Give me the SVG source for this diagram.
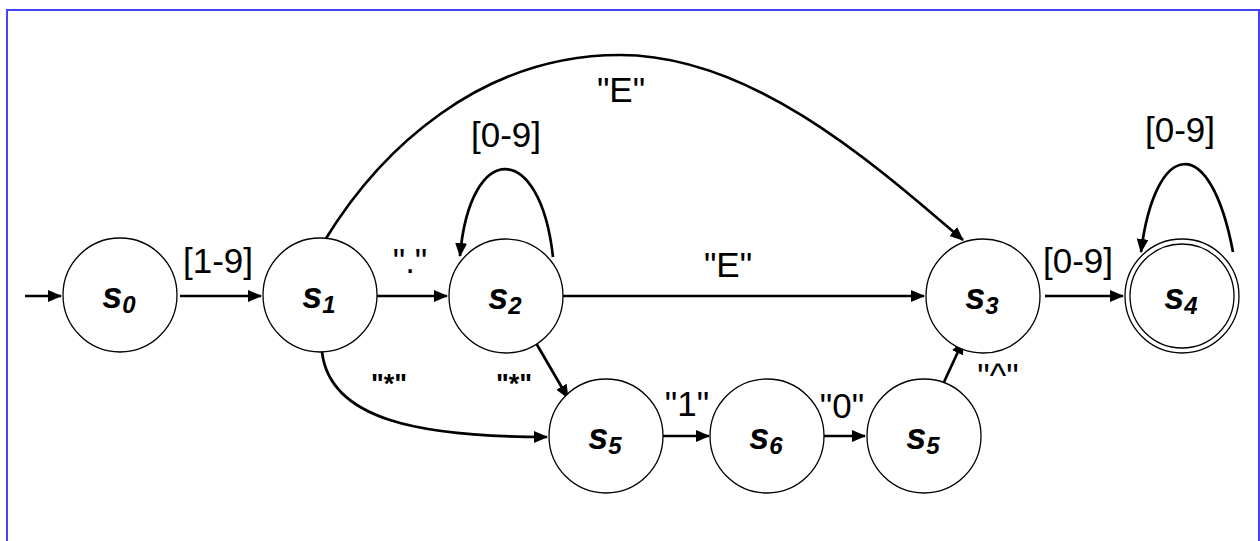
<svg xmlns="http://www.w3.org/2000/svg" width="1260" height="541" viewBox="0 0 1260 541">
<style>
.node{fill:#fff;stroke:#000;stroke-width:1.3}
.lab{font-family:"Liberation Sans",Arial,sans-serif;font-style:italic;font-weight:bold;font-size:36px;text-anchor:middle}
.sub{font-size:24px}
.el{font-family:"Liberation Sans",Arial,sans-serif;font-size:35px;text-anchor:middle;fill:#000}
.elb{font-family:"Liberation Sans",Arial,sans-serif;font-size:27px;font-weight:bold;text-anchor:middle;fill:#000}
.edge{fill:none;stroke:#000;stroke-width:2.7}
</style>
<defs>
<marker id="ah" viewBox="0 0 14 12" refX="13" refY="6" markerWidth="14" markerHeight="12" markerUnits="userSpaceOnUse" orient="auto">
<path d="M0,0 L14,6 L0,12 Z" fill="#000"/>
</marker>
</defs>
<rect x="7" y="10" width="1252" height="560" fill="#fff" stroke="#4444ff" stroke-width="2"/>
<g id="connectors">
<line class="edge" x1="25" y1="296" x2="61" y2="296" marker-end="url(#ah)"/>
<line class="edge" x1="180" y1="296" x2="261" y2="296" marker-end="url(#ah)"/>
<line class="edge" x1="377" y1="296" x2="447" y2="296" marker-end="url(#ah)"/>
<line class="edge" x1="563" y1="296" x2="924" y2="296" marker-end="url(#ah)"/>
<line class="edge" x1="1045" y1="296" x2="1123" y2="296" marker-end="url(#ah)"/>
<path class="edge" d="M553,257 C540,140 470,140 460,256" marker-end="url(#ah)"/>
<path class="edge" d="M1233,252 C1210,130 1155,140 1141,252" marker-end="url(#ah)"/>
<path class="edge" d="M325,240 C380,150 480,55 620,55 C750,55 870,160 963,240" marker-end="url(#ah)"/>
<path class="edge" d="M322,352 C330,420 420,437 547,437" marker-end="url(#ah)"/>
<line class="edge" x1="536" y1="343" x2="568" y2="398" marker-end="url(#ah)"/>
<line class="edge" x1="663" y1="436" x2="709" y2="436" marker-end="url(#ah)"/>
<line class="edge" x1="823" y1="436" x2="865" y2="436" marker-end="url(#ah)"/>
<line class="edge" x1="944" y1="382" x2="963" y2="341" marker-end="url(#ah)"/>
<text class="el" x="218" y="273">[1-9]</text>
<text class="el" x="410" y="273">"."</text>
<text class="el" x="621" y="102">"E"</text>
<text class="el" x="506" y="147">[0-9]</text>
<text class="el" x="728" y="277">"E"</text>
<text class="el" x="1078" y="273">[0-9]</text>
<text class="el" x="1180" y="142">[0-9]</text>
<text class="elb" x="389" y="393">"*"</text>
<text class="elb" x="514" y="393">"*"</text>
<text class="el" x="687" y="416">"1"</text>
<text class="el" x="842" y="418">"0"</text>
<text class="el" x="998" y="388">"^"</text>
</g>
<g id="s0"><circle class="node" cx="120" cy="295" r="57"/><text class="lab" x="119" y="308">s<tspan class="sub" dy="5">0</tspan></text></g>
<g id="s1"><circle class="node" cx="320" cy="295" r="57"/><text class="lab" x="319" y="308">s<tspan class="sub" dy="5">1</tspan></text></g>
<g id="s2"><circle class="node" cx="506" cy="296" r="57"/><text class="lab" x="505" y="309">s<tspan class="sub" dy="5">2</tspan></text></g>
<g id="s3"><circle class="node" cx="983" cy="296" r="57"/><text class="lab" x="982" y="309">s<tspan class="sub" dy="5">3</tspan></text></g>
<g id="s4"><circle class="node" cx="1182" cy="296" r="57"/><circle class="node" cx="1182" cy="296" r="52"/><text class="lab" x="1181" y="309">s<tspan class="sub" dy="5">4</tspan></text></g>
<g id="s5a"><circle class="node" cx="606" cy="436" r="57"/><text class="lab" x="605" y="449">s<tspan class="sub" dy="5">5</tspan></text></g>
<g id="s6"><circle class="node" cx="767" cy="436" r="57"/><text class="lab" x="766" y="449">s<tspan class="sub" dy="5">6</tspan></text></g>
<g id="s5b"><circle class="node" cx="924" cy="436" r="57"/><text class="lab" x="923" y="449">s<tspan class="sub" dy="5">5</tspan></text></g>
</svg>
